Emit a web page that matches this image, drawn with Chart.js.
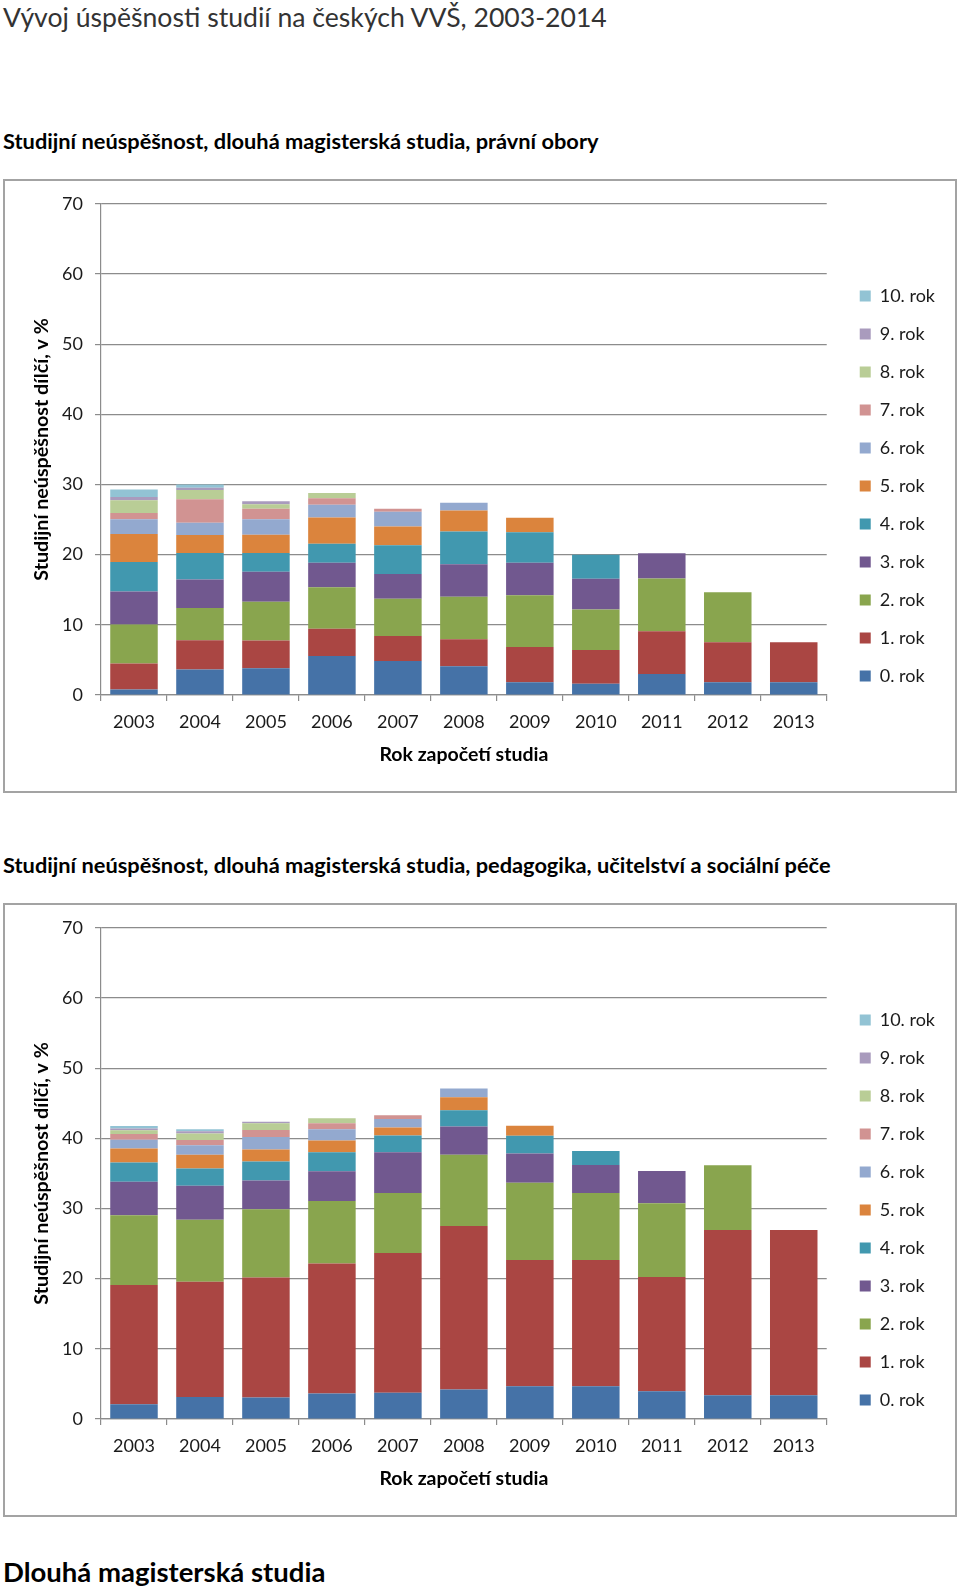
<!DOCTYPE html>
<html lang="cs">
<head>
<meta charset="utf-8">
<title>Studijní neúspěšnost, dlouhá magisterská studia</title>
<script src="https://cdn.jsdelivr.net/npm/chart.js@4.4.1/dist/chart.umd.min.js"></script>
<style>
  body { margin: 0; background: #fff; font-family: Lato, sans-serif; color: #000;
         width: 960px; height: 1589px; position: relative; overflow: hidden; }
  .t { position: absolute; left: 3px; white-space: nowrap; }
  #title { top: 1px; font-size: 26.6px; font-weight: 400; line-height: 32px; color: #333; }
  .sub { font-size: 21.8px; font-weight: bold; line-height: 26px; }
  #bottom { top: 1555px; font-size: 27.5px; font-weight: bold; line-height: 34px; }
  .frame { position: absolute; left: 3px; width: 950px; height: 610px; border: 2px solid #a3a3a3; }
  .frame canvas { display: block; }
</style>
</head>
<body>
<div id="title" class="t">Vývoj úspěšnosti studií na českých VVŠ, 2003-2014</div>

<div class="t sub" style="top:128px">Studijní neúspěšnost, dlouhá magisterská studia, právní obory</div>
<div class="frame" style="top:179px"><canvas id="pravniChart" width="950" height="610"></canvas></div>

<div class="t sub" style="top:852px">Studijní neúspěšnost, dlouhá magisterská studia, pedagogika, učitelství a sociální péče</div>
<div class="frame" style="top:903px"><canvas id="pedagChart" width="950" height="610"></canvas></div>

<div id="bottom" class="t">Dlouhá magisterská studia</div>

<script>
// categories and series
var years = ['2003', '2004', '2005', '2006', '2007', '2008', '2009', '2010', '2011', '2012', '2013'];
var rokLabels = ['0. rok', '1. rok', '2. rok', '3. rok', '4. rok', '5. rok', '6. rok', '7. rok', '8. rok', '9. rok', '10. rok'];
var rokColors = ['#4572A7', '#AA4643', '#89A54E', '#71588F', '#4198AF', '#DB843D',
                 '#93A9CF', '#D19392', '#B9CD96', '#A99BBD', '#92C3D4'];

// pravni obory, v %
var pravni0 = [0.8, 3.65, 3.8, 5.55, 4.85, 4.1, 1.8, 1.6, 3.0, 1.8, 1.8];
var pravni1 = [3.7, 4.15, 3.95, 3.9, 3.55, 3.85, 5.05, 4.8, 6.1, 5.7, 5.7];
var pravni2 = [5.55, 4.6, 5.55, 5.9, 5.3, 6.05, 7.35, 5.8, 7.5, 7.15];
var pravni3 = [4.7, 4.05, 4.25, 3.5, 3.55, 4.65, 4.65, 4.35, 3.6];
var pravni4 = [4.2, 3.8, 2.7, 2.7, 4.1, 4.65, 4.35, 3.45];
var pravni5 = [4.0, 2.55, 2.6, 3.75, 2.65, 3.0, 2.05];
var pravni6 = [2.1, 1.75, 2.2, 1.8, 2.1, 1.1];
var pravni7 = [0.9, 3.35, 1.5, 0.95, 0.45];
var pravni8 = [1.8, 1.3, 0.65, 0.75];
var pravni9 = [0.45, 0.35, 0.4];
var pravni10 = [1.1, 0.45];

// pedagogika, ucitelstvi a socialni pece, v %
var pedag0 = [2.1, 3.15, 3.05, 3.65, 3.75, 4.2, 4.65, 4.65, 3.95, 3.4, 3.4];
var pedag1 = [17.0, 16.4, 17.1, 18.5, 19.9, 23.3, 18.0, 18.0, 16.3, 23.55, 23.55];
var pedag2 = [9.95, 8.85, 9.75, 8.9, 8.55, 10.15, 11.0, 9.55, 10.5, 9.2];
var pedag3 = [4.75, 4.85, 4.1, 4.25, 5.8, 4.05, 4.2, 4.0, 4.6];
var pedag4 = [2.75, 2.45, 2.7, 2.7, 2.4, 2.3, 2.5, 2.0];
var pedag5 = [2.0, 1.95, 1.7, 1.7, 1.15, 1.85, 1.45];
var pedag6 = [1.25, 1.35, 1.8, 1.6, 1.2, 1.25];
var pedag7 = [0.8, 0.75, 1.0, 0.85, 0.55];
var pedag8 = [0.55, 0.95, 0.95, 0.7];
var pedag9 = [0.25, 0.3, 0.2];
var pedag10 = [0.35, 0.3];

var yMin = 0, yMax = 70, yStep = 10;

Chart.defaults.font.family = 'Lato, sans-serif';
Chart.defaults.color = '#1a1a1a';

var gridGrey = '#8c8c8c';

function makeChart(id, series) {
  var datasets = series.map(function (vals, i) {
    return {
      label: rokLabels[i],
      data: vals,
      backgroundColor: rokColors[i],
      borderWidth: 0,
      barPercentage: 0.72,
      categoryPercentage: 1,
      xAxisID: 'x',
      yAxisID: 'y'
    };
  });

  return new Chart(document.getElementById(id), {
    type: 'bar',
    data: { labels: years, datasets: datasets },
    options: {
      responsive: false,
      animation: false,
      layout: { padding: { left: 0, right: 10, top: 0, bottom: 0 } },
      plugins: {
        tooltip: { enabled: false },
        legend: {
          position: 'right',
          align: 'center',
          reverse: true,
          labels: { boxWidth: 11, boxHeight: 11, padding: 20, font: { size: 18 }, color: '#1a1a1a' }
        }
      },
      scales: {
        x: {
          stacked: true,
          grid: { display: true, drawOnChartArea: false, drawTicks: true, tickLength: 6, color: gridGrey, lineWidth: 1.2, offset: true },
          border: { display: true, color: gridGrey, width: 1.2 },
          ticks: { padding: 10, font: { size: 18 }, color: '#1a1a1a', maxRotation: 0 },
          title: { display: true, text: 'Rok započetí studia', color: '#000',
                   font: { size: 19.5, weight: 'bold' }, padding: { top: 0, bottom: 25 } },
          afterFit: function (s) { s.height = 96; }
        },
        y: {
          stacked: true,
          min: yMin,
          max: yMax,
          ticks: { stepSize: yStep, padding: 12, font: { size: 18 }, color: '#1a1a1a' },
          grid: { color: gridGrey, lineWidth: 1.2, drawTicks: true, tickLength: 6 },
          border: { display: true, color: gridGrey, width: 1.2 },
          title: { display: true, text: 'Studijní neúspěšnost dílčí, v %', color: '#000',
                   font: { size: 19.7, weight: 'bold' }, padding: { top: 25, bottom: 0 } },
          afterFit: function (s) { s.width = 96; }
        },
        // empty spacers so the plot area sits where the original one does
        padTop: {
          type: 'category', position: 'top', display: true,
          grid: { display: false }, border: { display: false }, ticks: { display: false },
          afterFit: function (s) { s.height = 22; }
        },
        padRight: {
          type: 'linear', position: 'right', display: true,
          grid: { display: false }, border: { display: false }, ticks: { display: false },
          afterFit: function (s) { s.width = 13; }
        }
      }
    }
  });
}

var pravniChart = makeChart('pravniChart',
  [pravni0, pravni1, pravni2, pravni3, pravni4, pravni5, pravni6, pravni7, pravni8, pravni9, pravni10]);
var pedagChart = makeChart('pedagChart',
  [pedag0, pedag1, pedag2, pedag3, pedag4, pedag5, pedag6, pedag7, pedag8, pedag9, pedag10]);
</script>
</body>
</html>
